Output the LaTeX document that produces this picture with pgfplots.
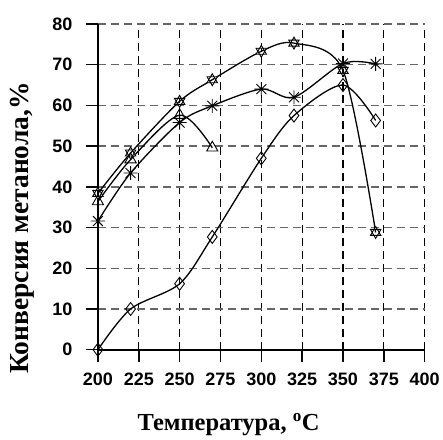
\documentclass[border=0pt]{standalone}
\usepackage{fontspec}
\setmainfont{Liberation Serif}
\newfontfamily\arial{Liberation Sans}
\usepackage{pgfplots}
\pgfplotsset{compat=1.18}
\definecolor{tickcol}{rgb}{0.03,0.03,0.03}

% eight-spoke asterisk and six-point star marks
\pgfdeclareplotmark{ast8}{%
  \pgfpathmoveto{\pgfqpoint{0pt}{\pgfplotmarksize}}\pgfpathlineto{\pgfqpoint{0pt}{-\pgfplotmarksize}}%
  \pgfpathmoveto{\pgfqpoint{\pgfplotmarksize}{0pt}}\pgfpathlineto{\pgfqpoint{-\pgfplotmarksize}{0pt}}%
  \pgfpathmoveto{\pgfqpoint{0.707\pgfplotmarksize}{0.707\pgfplotmarksize}}\pgfpathlineto{\pgfqpoint{-0.707\pgfplotmarksize}{-0.707\pgfplotmarksize}}%
  \pgfpathmoveto{\pgfqpoint{-0.707\pgfplotmarksize}{0.707\pgfplotmarksize}}\pgfpathlineto{\pgfqpoint{0.707\pgfplotmarksize}{-0.707\pgfplotmarksize}}%
  \pgfusepathqstroke}
\pgfdeclareplotmark{hexa}{%
  \pgfpathmoveto{\pgfqpoint{0pt}{\pgfplotmarksize}}%
  \pgfpathlineto{\pgfqpoint{0.866\pgfplotmarksize}{-0.5\pgfplotmarksize}}%
  \pgfpathlineto{\pgfqpoint{-0.866\pgfplotmarksize}{-0.5\pgfplotmarksize}}\pgfpathclose
  \pgfpathmoveto{\pgfqpoint{0pt}{-\pgfplotmarksize}}%
  \pgfpathlineto{\pgfqpoint{0.866\pgfplotmarksize}{0.5\pgfplotmarksize}}%
  \pgfpathlineto{\pgfqpoint{-0.866\pgfplotmarksize}{0.5\pgfplotmarksize}}\pgfpathclose
  \pgfusepathqfillstroke}

\begin{document}
\begin{tikzpicture}
\begin{axis}[
  scale only axis,
  width=327pt, height=326pt,
  xmin=200, xmax=400, ymin=0, ymax=80,
  xtick={200,225,...,400}, ytick={0,10,...,80},
  xticklabels={200,225,250,275,300,325,350,375,400},
  yticklabels={0,10,20,30,40,50,60,70,80},
  axis x line*=bottom, axis y line*=left,
  axis line style={line width=2pt},
  tick align=outside,
  major tick length=12pt,
  major tick style={tickcol, line width=1.5pt},
  major x tick style={tickcol, line width=1.5pt},
  major y tick style={tickcol, line width=1.5pt},
  grid=major,
  x grid style={black, dash pattern=on 8pt off 5pt, line width=1.1pt},
  y grid style={black!60, dash pattern=on 8pt off 5pt, line width=1.4pt},
  ticklabel style={font=\arial\bfseries\fontsize{18}{21}\selectfont},
  xticklabel style={yshift=-8pt},
  yticklabel style={xshift=-10pt},
  xlabel={Температура, \textsuperscript{o}C},
  ylabel={Конверсия метанола,\%},
  xlabel style={font=\bfseries\fontsize{24.5}{28}\selectfont,
    at={(axis description cs:0.40,-0.23)}, anchor=center},
  ylabel style={font=\bfseries\fontsize{27.5}{31}\selectfont,
    at={(axis description cs:-0.2324,0.374)}, anchor=center, rotate=0},
  clip=false,
  every axis plot/.append style={black, line width=1.3pt, smooth},
  mark options={solid, fill=white, line width=0.9pt},
]
\addplot[mark=diamond, mark size=6.5pt] coordinates {
  (200,0) (220,10) (250,16.2) (270,27.7) (300,47) (320,57.5) (350,65) (370,56.3)};
\addplot[mark=triangle, mark size=6.5pt] coordinates {
  (200,36.4) (220,46.7) (250,57.6) (270,49.6)};
\addplot[mark=ast8, mark size=7pt] coordinates {
  (200,31.6) (220,43.4) (250,55.8) (270,59.9) (300,64) (320,62) (350,70.3) (370,70.2)};
\addplot[mark=hexa, mark size=6pt] coordinates {
  (200,38.4) (220,48.3) (250,61) (270,66.3) (300,73.3) (320,75.3) (350,68.6) (370,28.8)};
% page size as in the reference
\path (rel axis cs:0,0) ++(-98pt,-83pt);
\path (rel axis cs:1,1) ++(18pt,24pt);
\end{axis}
\end{tikzpicture}
\end{document}
